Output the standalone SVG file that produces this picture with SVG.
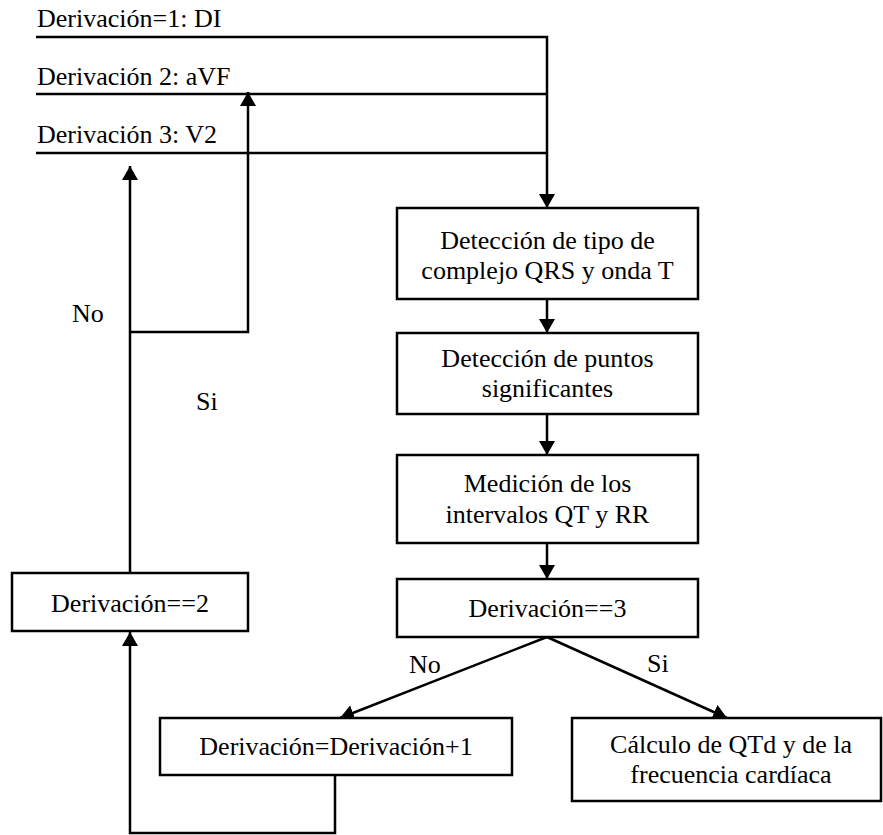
<svg xmlns="http://www.w3.org/2000/svg" width="883" height="835" viewBox="0 0 883 835" font-family="'Liberation Serif', 'DejaVu Serif', serif" font-size="26">
  <defs>
    <marker id="arrow" markerUnits="userSpaceOnUse" markerWidth="16" markerHeight="16" refX="14" refY="8" orient="auto">
      <path d="M0,0 L14,8 L0,16 z" fill="#000"/>
    </marker>
    <style>
      text { font-family: 'Liberation Serif', 'DejaVu Serif', serif; font-size: 26px; fill: #000; }
      .box { fill: #fff; stroke: #000; stroke-width: 2.5; }
      .wire { fill: none; stroke: #000; stroke-width: 2.5; }
      .c { text-anchor: middle; }
    </style>
  </defs>
  <rect width="883" height="835" fill="#fff"/>

  <!-- lead input labels -->
  <g id="leads">
    <text x="37" y="27">Derivación=1: DI</text>
    <text x="37" y="85">Derivación 2: aVF</text>
    <text x="37" y="143">Derivación 3: V2</text>
  </g>

  <!-- connectors -->
  <g id="connectors">
    <path class="wire" d="M36,37 H547 V208" marker-end="url(#arrow)"/>
    <path class="wire" d="M36,94 H547"/>
    <path class="wire" d="M36,153 H547"/>
    <path class="wire" d="M547,299 V333" marker-end="url(#arrow)"/>
    <path class="wire" d="M547,414 V455" marker-end="url(#arrow)"/>
    <path class="wire" d="M547,543 V579" marker-end="url(#arrow)"/>
    <path class="wire" d="M547,637 L340,718" marker-end="url(#arrow)"/>
    <path class="wire" d="M547,637 L727,718" marker-end="url(#arrow)"/>
    <path class="wire" d="M335,775 V833 H130 V632" marker-end="url(#arrow)"/>
    <path class="wire" d="M130,573 V166" marker-end="url(#arrow)"/>
    <path class="wire" d="M130,332 H248 V92" marker-end="url(#arrow)"/>
  </g>

  <!-- branch labels -->
  <g id="labels">
    <text x="72" y="322">No</text>
    <text x="196" y="410">Si</text>
    <text x="409" y="673">No</text>
    <text x="647" y="672">Si</text>
  </g>

  <g id="deteccion-tipo">
    <rect class="box" x="397" y="208" width="301" height="91"/>
    <text class="c" x="547.5" y="249">Detección de tipo de</text>
    <text class="c" x="547.5" y="279">complejo QRS y onda T</text>
  </g>

  <g id="deteccion-puntos">
    <rect class="box" x="397" y="333" width="301" height="81"/>
    <text class="c" x="547.5" y="367">Detección de puntos</text>
    <text class="c" x="547.5" y="397">significantes</text>
  </g>

  <g id="medicion">
    <rect class="box" x="397" y="455" width="301" height="88"/>
    <text class="c" x="547.5" y="492">Medición de los</text>
    <text class="c" x="547.5" y="523">intervalos QT y RR</text>
  </g>

  <g id="derivacion-3">
    <rect class="box" x="397" y="579" width="301" height="58"/>
    <text class="c" x="547.5" y="617">Derivación==3</text>
  </g>

  <g id="derivacion-2">
    <rect class="box" x="12" y="573" width="236" height="58"/>
    <text class="c" x="130" y="612">Derivación==2</text>
  </g>

  <g id="incremento">
    <rect class="box" x="160" y="718" width="352" height="57"/>
    <text class="c" x="336" y="755">Derivación=Derivación+1</text>
  </g>

  <g id="calculo">
    <rect class="box" x="572" y="718" width="309" height="83"/>
    <text class="c" x="731" y="753">Cálculo de QTd y de la</text>
    <text class="c" x="731" y="783">frecuencia cardíaca</text>
  </g>
</svg>
